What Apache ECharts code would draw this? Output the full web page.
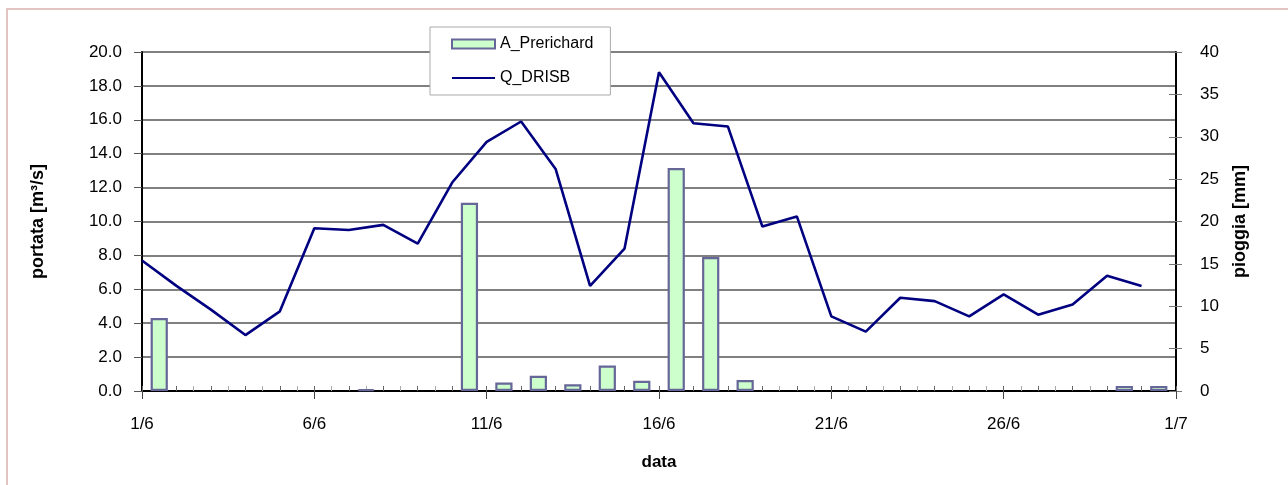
<!DOCTYPE html>
<html><head><meta charset="utf-8">
<script src="https://cdn.jsdelivr.net/npm/echarts@6/dist/echarts.min.js"></script>
<style>html,body{margin:0;padding:0;background:#fff}#c{width:1288px;height:485px}</style>
</head><body><div id="c"></div>
<script>
const days = ['1/6','2/6','3/6','4/6','5/6','6/6','7/6','8/6','9/6','10/6','11/6','12/6','13/6','14/6','15/6','16/6','17/6','18/6','19/6','20/6','21/6','22/6','23/6','24/6','25/6','26/6','27/6','28/6','29/6','30/6','1/7'];
const rainDays = days.slice(0, 30);
// Q_DRISB flow [m3/s], one value per day 1/6..30/6
const flow = [7.7, 6.2, 4.8, 3.3, 4.7, 9.6, 9.5, 9.8, 8.7, 12.3, 14.7, 15.9, 13.1, 6.2, 8.4, 18.8, 15.8, 15.6, 9.7, 10.3, 4.4, 3.5, 5.5, 5.3, 4.4, 5.7, 4.5, 5.1, 6.8, 6.2];
// A_Prerichard rain [mm]
const rain = [8.6, 0, 0, 0, 0, 0, 0.2, 0, 0, 22.2, 1.0, 1.8, 0.8, 3.0, 1.2, 26.3, 15.8, 1.3, 0, 0, 0, 0, 0, 0, 0, 0, 0, 0, 0.6, 0.6];
const seriesNames = ['A_Prerichard', 'Q_DRISB'];

const FONT = 'Liberation Sans, Arial, sans-serif';
const chart = echarts.init(document.getElementById('c'), null, {renderer: 'canvas'});
chart.setOption({
  animation: false,
  backgroundColor: '#fff',
  textStyle: {fontFamily: FONT, color: '#000'},
  graphic: [{
    type: 'rect', z: -10, silent: true,
    shape: {x: 7, y: 9, width: 1400, height: 600},
    style: {fill: 'none', stroke: '#dcb0b0', lineWidth: 1.5}
  }],
  legend: {
    data: [{name: seriesNames[0], icon: 'rect'}, {name: seriesNames[1], itemStyle: {opacity: 0}}],
    orient: 'vertical',
    left: 430, top: 27,
    itemWidth: 43, itemHeight: 9, itemGap: 18, itemTextGap: 5,
    padding: [9, 17, 9, 21],
    borderColor: '#aaa', borderWidth: 1, backgroundColor: '#fff',
    textStyle: {fontSize: 16, fontFamily: FONT, color: '#000'},
    z: 10
  },
  grid: {left: 142, right: 112, top: 52, bottom: 94},
  xAxis: [{
    type: 'category', data: rainDays, boundaryGap: true, position: 'bottom',
    axisLine: {onZero: false, lineStyle: {color: '#000', width: 2}},
    axisTick: {show: true, inside: true, alignWithLabel: true, interval: 0, length: 5, lineStyle: {color: '#aaa'}},
    axisLabel: {show: false}, splitLine: {show: false}
  }, {
    type: 'category', data: days, boundaryGap: false, position: 'bottom',
    axisLine: {show: false, onZero: false},
    axisTick: {show: true, inside: true, interval: 0, length: 5, lineStyle: {color: '#666'}},
    axisLabel: {show: false}, splitLine: {show: false}
  }, {
    type: 'category', data: days, boundaryGap: false, position: 'bottom',
    axisLine: {show: false, onZero: false},
    axisTick: {show: true, inside: false, interval: 4, length: 8, lineStyle: {color: '#444'}},
    axisLabel: {show: true, interval: 4, fontSize: 17, margin: 25, color: '#000', fontFamily: FONT},
    splitLine: {show: false},
    name: 'data', nameLocation: 'middle', nameGap: 63,
    nameTextStyle: {fontSize: 17, fontWeight: 'bold', color: '#000', fontFamily: FONT}
  }],
  yAxis: [{
    type: 'value', min: 0, max: 20, interval: 2, position: 'left',
    axisLine: {show: true, lineStyle: {color: '#000', width: 2}},
    axisTick: {show: true, length: 8, lineStyle: {color: '#555'}},
    axisLabel: {fontSize: 17, margin: 20, color: '#000', fontFamily: FONT, formatter: v => v.toFixed(1)},
    splitLine: {show: true, lineStyle: {color: '#808080', width: 2}},
    name: 'portata [m³/s]', nameLocation: 'middle', nameGap: 95, nameRotate: 90,
    nameTextStyle: {fontSize: 18, fontWeight: 'bold', color: '#000', fontFamily: FONT}
  }, {
    type: 'value', min: 0, max: 40, interval: 5, position: 'right',
    axisLine: {show: true, lineStyle: {color: '#000', width: 2}},
    axisTick: {show: true, length: 6, lineStyle: {color: '#777'}},
    axisLabel: {fontSize: 17, margin: 24, color: '#000', fontFamily: FONT},
    splitLine: {show: false},
    name: 'pioggia [mm]', nameLocation: 'middle', nameGap: 55, nameRotate: 90,
    nameTextStyle: {fontSize: 18, fontWeight: 'bold', color: '#000', fontFamily: FONT}
  }, {
    type: 'value', min: 0, max: 40, interval: 5, position: 'right',
    axisLine: {show: false},
    axisTick: {show: true, inside: true, length: 7, lineStyle: {color: '#777'}},
    axisLabel: {show: false}, splitLine: {show: false}
  }],
  series: [{
    name: seriesNames[0], type: 'bar', xAxisIndex: 0, yAxisIndex: 1,
    data: rain.map(v => (v === 0 ? '-' : v)), barWidth: '50%',
    itemStyle: {color: '#ccffcc', borderColor: '#666699', borderWidth: 2.2}
  }, {
    name: seriesNames[1], type: 'line', xAxisIndex: 1, yAxisIndex: 0,
    data: flow, symbol: 'none', showSymbol: false,
    lineStyle: {color: '#000080', width: 2.6}, itemStyle: {color: '#000080'}, z: 5
  }]
});
</script>
</body></html>
